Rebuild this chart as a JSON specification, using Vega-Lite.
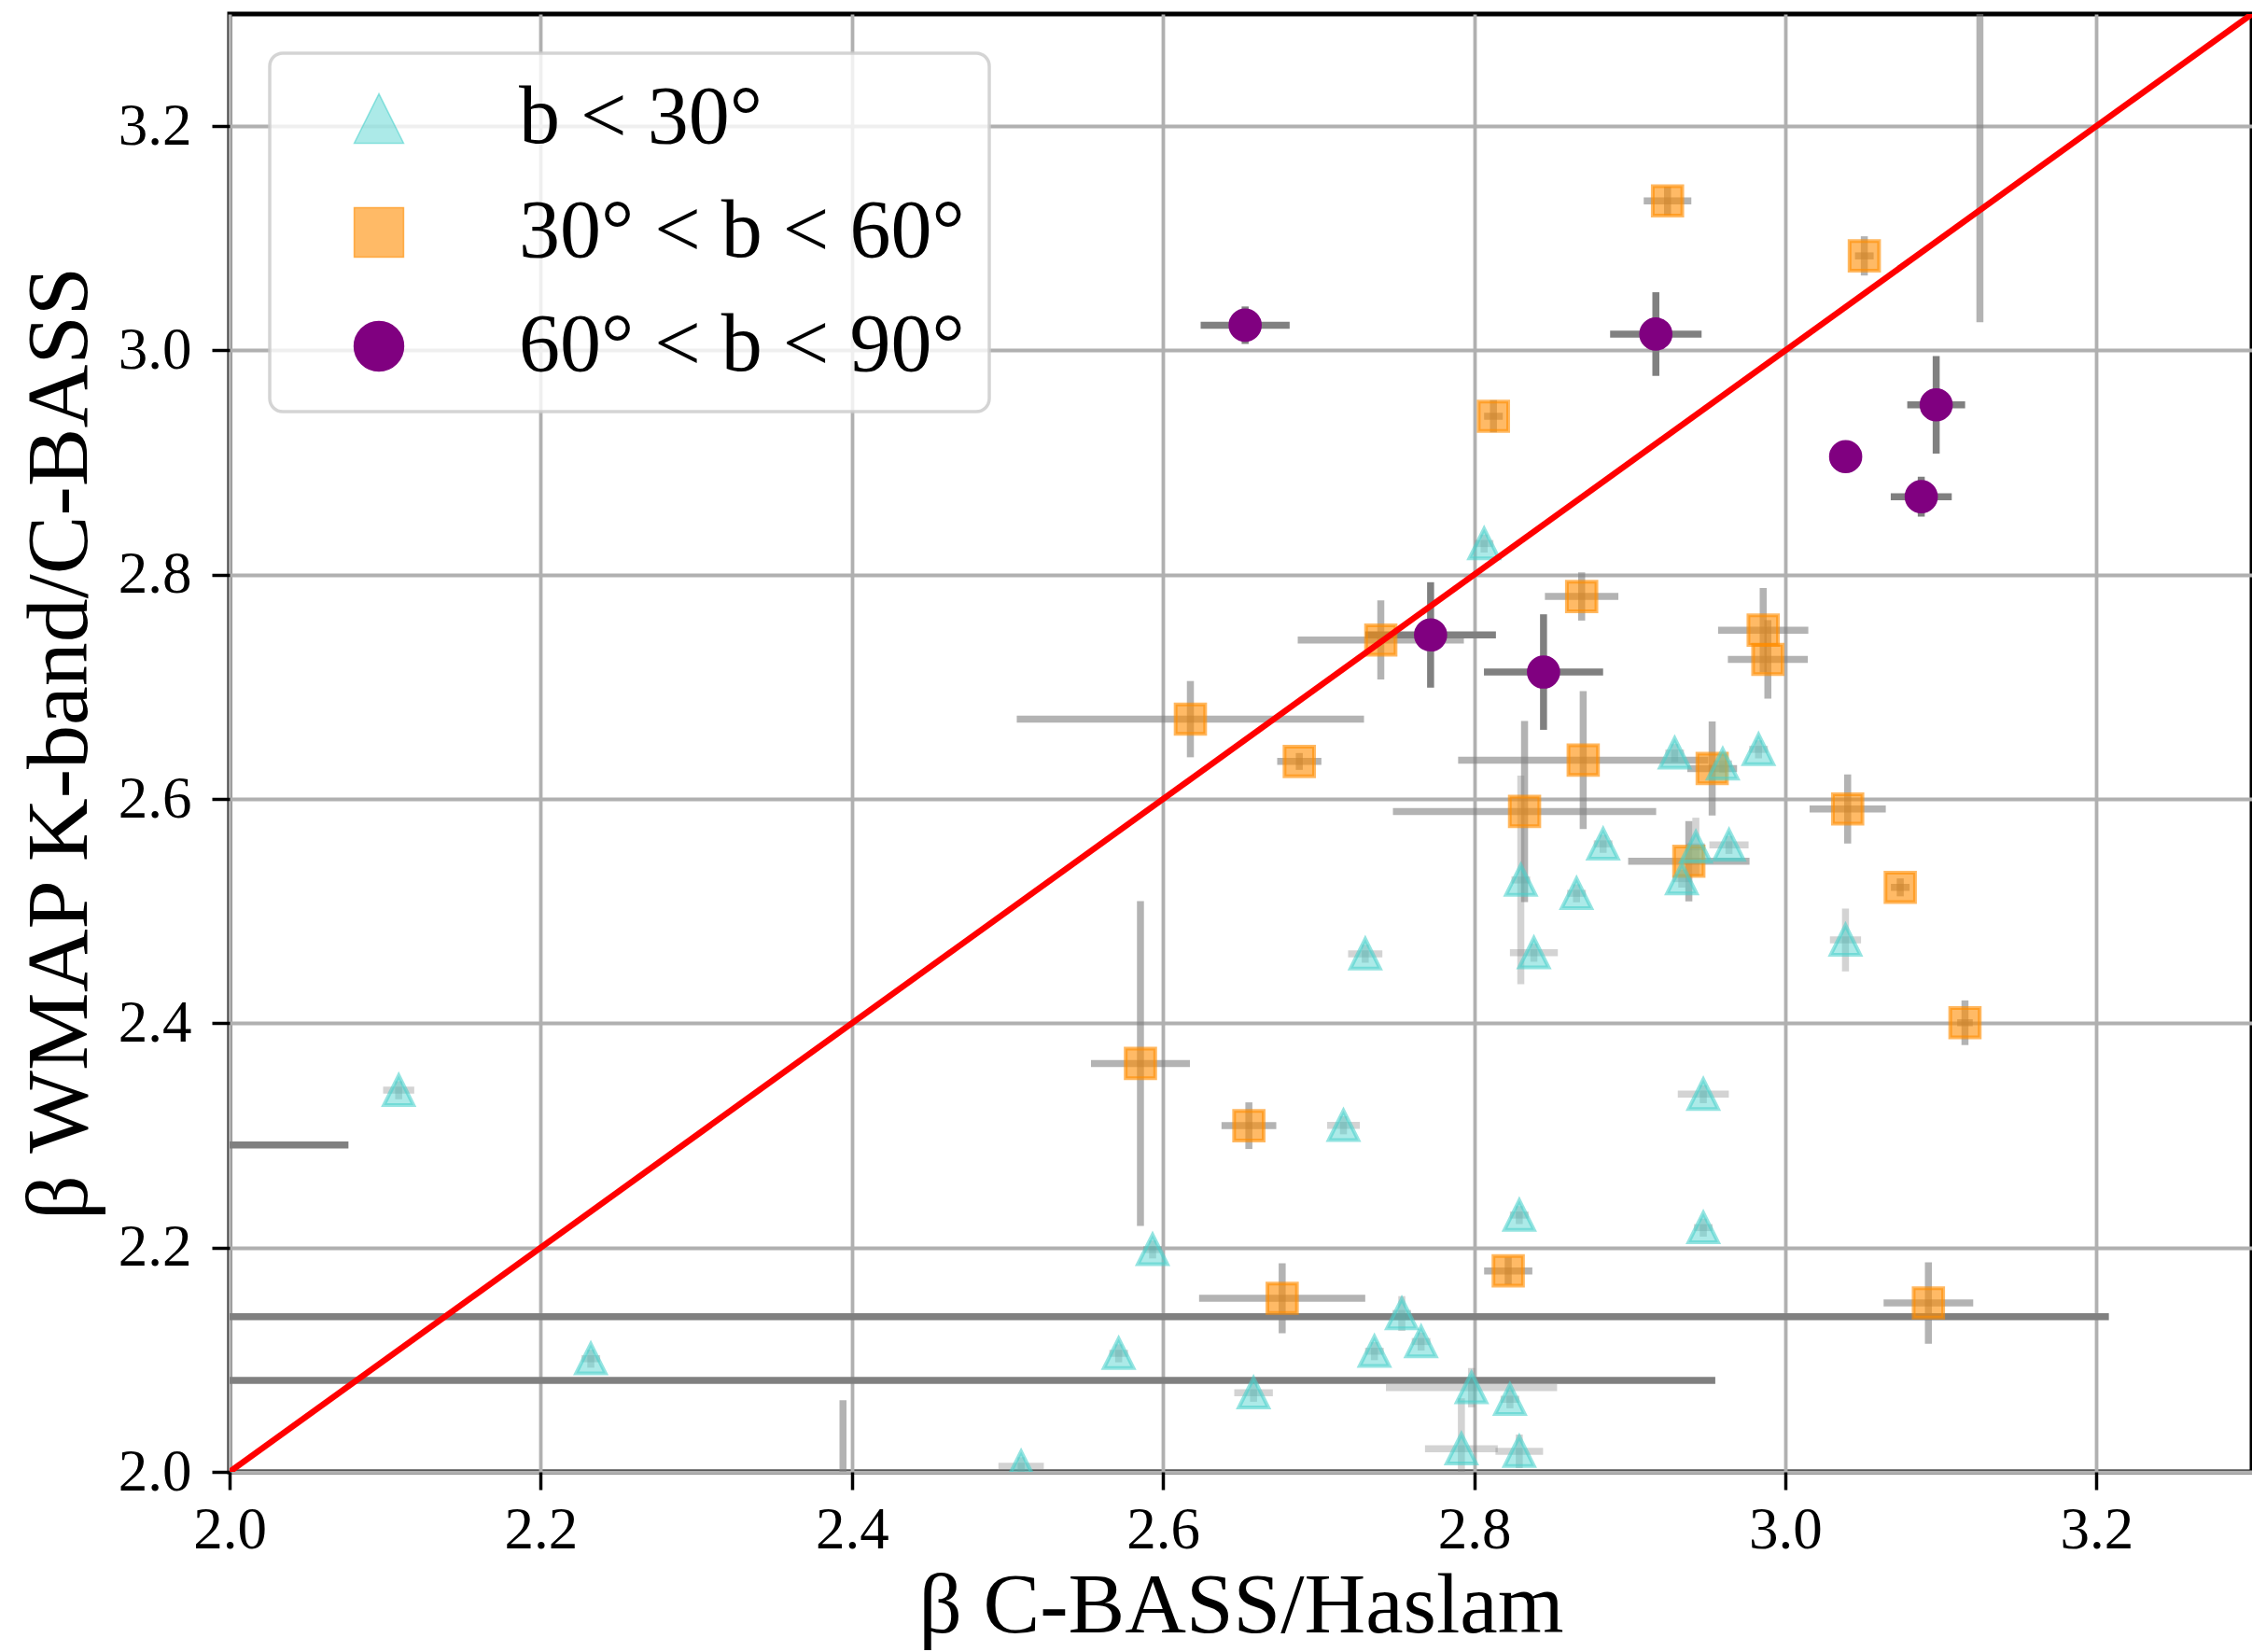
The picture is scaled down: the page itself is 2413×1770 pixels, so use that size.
{
  "$schema": "https://vega.github.io/schema/vega-lite/v6.json",
  "width": 2167,
  "height": 1562,
  "autosize": {"type": "none"},
  "padding": {"left": 246, "top": 15, "right": 0, "bottom": 193},
  "background": "white",
  "config": {
    "view": {"stroke": "black", "strokeWidth": 5},
    "axis": {
      "grid": true,
      "gridColor": "#b0b0b0",
      "gridWidth": 3.8,
      "domain": false,
      "tickColor": "black",
      "tickWidth": 3.5,
      "tickSize": 19,
      "labelFont": "Liberation Serif",
      "labelFontSize": 63,
      "labelColor": "black",
      "labelFlush": false,
      "labelOverlap": false,
      "labelBound": false,
      "titleFont": "Liberation Serif",
      "titleFontSize": 94,
      "titleFontWeight": "normal",
      "titleColor": "black"
    },
    "axisX": {"labelPadding": 12, "titlePadding": 5, "titleFontSize": 91},
    "axisY": {"labelPadding": 22, "titlePadding": 14},
    "legend": {
      "orient": "none",
      "legendX": 43,
      "legendY": 42,
      "padding": 26,
      "fillColor": "rgba(255,255,255,0.8)",
      "strokeColor": "rgba(204,204,204,0.85)",
      "strokeWidth": 3.5,
      "cornerRadius": 14,
      "symbolSize": 2800,
      "labelFont": "Liberation Serif",
      "labelFontSize": 88,
      "labelColor": "black",
      "labelLimit": 0,
      "rowPadding": 34,
      "labelOffset": 106,
      "symbolOffset": 47
    }
  },
  "datasets": {
    "pts": [
      {"g": "60° < b < 90°", "x": 2.6528, "y": 3.0225, "xlo": 2.6242, "xhi": 2.6814, "ylo": 3.0058, "yhi": 3.0392},
      {"g": "60° < b < 90°", "x": 2.9168, "y": 3.0146, "xlo": 2.8874, "xhi": 2.9462, "ylo": 2.9773, "yhi": 3.0519},
      {"g": "60° < b < 90°", "x": 3.097, "y": 2.9515, "xlo": 3.0784, "xhi": 3.1156, "ylo": 2.908, "yhi": 2.995},
      {"g": "60° < b < 90°", "x": 3.0388, "y": 2.9053, "xlo": 3.0388, "xhi": 3.0388, "ylo": 2.9053, "yhi": 2.9053},
      {"g": "60° < b < 90°", "x": 3.0874, "y": 2.8696, "xlo": 3.0678, "xhi": 3.107, "ylo": 2.8518, "yhi": 2.8874},
      {"g": "60° < b < 90°", "x": 2.772, "y": 2.7463, "xlo": 2.73, "xhi": 2.814, "ylo": 2.6993, "yhi": 2.7933},
      {"g": "60° < b < 90°", "x": 2.8446, "y": 2.7132, "xlo": 2.8063, "xhi": 2.8829, "ylo": 2.6617, "yhi": 2.7647},
      {"g": "60° < b < 90°", "x": 1.9, "y": 2.2916, "xlo": 1.7236, "xhi": 2.0764, "ylo": 2.25, "yhi": 2.33},
      {"g": "60° < b < 90°", "x": 1.85, "y": 2.1384, "xlo": 0.492, "xhi": 3.208, "ylo": 2.09, "yhi": 2.19},
      {"g": "60° < b < 90°", "x": 1.8, "y": 2.0816, "xlo": 0.645, "xhi": 2.955, "ylo": 2.04, "yhi": 2.12},
      {"g": "30° < b < 60°", "x": 2.9243, "y": 3.1333, "xlo": 2.909, "xhi": 2.9396, "ylo": 3.1206, "yhi": 3.146},
      {"g": "30° < b < 60°", "x": 3.0508, "y": 3.0843, "xlo": 3.0448, "xhi": 3.0568, "ylo": 3.0668, "yhi": 3.1018},
      {"g": "30° < b < 60°", "x": 2.8124, "y": 2.9413, "xlo": 2.8064, "xhi": 2.8184, "ylo": 2.927, "yhi": 2.9556},
      {"g": "30° < b < 60°", "x": 2.8691, "y": 2.7806, "xlo": 2.8455, "xhi": 2.8927, "ylo": 2.7591, "yhi": 2.8021},
      {"g": "30° < b < 60°", "x": 2.74, "y": 2.7418, "xlo": 2.6866, "xhi": 2.7934, "ylo": 2.7065, "yhi": 2.7771},
      {"g": "30° < b < 60°", "x": 2.9858, "y": 2.7506, "xlo": 2.9568, "xhi": 3.0148, "ylo": 2.7131, "yhi": 2.7881},
      {"g": "30° < b < 60°", "x": 2.9888, "y": 2.7245, "xlo": 2.9631, "xhi": 3.0145, "ylo": 2.6895, "yhi": 2.7595},
      {"g": "30° < b < 60°", "x": 2.6176, "y": 2.6712, "xlo": 2.506, "xhi": 2.7292, "ylo": 2.6372, "yhi": 2.7052},
      {"g": "30° < b < 60°", "x": 2.6876, "y": 2.6335, "xlo": 2.6734, "xhi": 2.7018, "ylo": 2.626, "yhi": 2.641},
      {"g": "30° < b < 60°", "x": 2.8701, "y": 2.6347, "xlo": 2.7897, "xhi": 2.9505, "ylo": 2.5733, "yhi": 2.6961},
      {"g": "30° < b < 60°", "x": 2.953, "y": 2.6272, "xlo": 2.937, "xhi": 2.969, "ylo": 2.5852, "yhi": 2.6692},
      {"g": "30° < b < 60°", "x": 2.8324, "y": 2.5889, "xlo": 2.7478, "xhi": 2.917, "ylo": 2.5082, "yhi": 2.6696},
      {"g": "30° < b < 60°", "x": 3.0401, "y": 2.5911, "xlo": 3.0156, "xhi": 3.0646, "ylo": 2.5603, "yhi": 2.6219},
      {"g": "30° < b < 60°", "x": 2.938, "y": 2.5445, "xlo": 2.899, "xhi": 2.977, "ylo": 2.5088, "yhi": 2.5802},
      {"g": "30° < b < 60°", "x": 3.0739, "y": 2.5212, "xlo": 3.0679, "xhi": 3.0799, "ylo": 2.5132, "yhi": 2.5292},
      {"g": "30° < b < 60°", "x": 3.1155, "y": 2.4005, "xlo": 3.1105, "xhi": 3.1205, "ylo": 2.3806, "yhi": 2.4204},
      {"g": "30° < b < 60°", "x": 2.5855, "y": 2.3642, "xlo": 2.5537, "xhi": 2.6173, "ylo": 2.2194, "yhi": 2.509},
      {"g": "30° < b < 60°", "x": 2.6552, "y": 2.3087, "xlo": 2.6376, "xhi": 2.6728, "ylo": 2.2879, "yhi": 2.3295},
      {"g": "30° < b < 60°", "x": 2.8219, "y": 2.1792, "xlo": 2.8064, "xhi": 2.8374, "ylo": 2.1672, "yhi": 2.1912},
      {"g": "30° < b < 60°", "x": 2.6766, "y": 2.1548, "xlo": 2.6232, "xhi": 2.73, "ylo": 2.1236, "yhi": 2.186},
      {"g": "30° < b < 60°", "x": 3.092, "y": 2.1506, "xlo": 3.0632, "xhi": 3.1208, "ylo": 2.1143, "yhi": 2.1869},
      {"g": "30° < b < 60°", "x": 3.1251, "y": 3.4, "xlo": 3.1251, "xhi": 3.1251, "ylo": 3.0251, "yhi": 3.775},
      {"g": "30° < b < 60°", "x": 2.3943, "y": 1.94, "xlo": 2.3943, "xhi": 2.3943, "ylo": 1.816, "yhi": 2.0639},
      {"g": "b < 30°", "x": 2.8064, "y": 2.8278, "xlo": 2.8004, "xhi": 2.8124, "ylo": 2.8198, "yhi": 2.8358},
      {"g": "b < 30°", "x": 2.9289, "y": 2.641, "xlo": 2.9229, "xhi": 2.9349, "ylo": 2.633, "yhi": 2.649},
      {"g": "b < 30°", "x": 2.9598, "y": 2.6313, "xlo": 2.9538, "xhi": 2.9658, "ylo": 2.6233, "yhi": 2.6393},
      {"g": "b < 30°", "x": 2.9828, "y": 2.6443, "xlo": 2.9768, "xhi": 2.9888, "ylo": 2.6363, "yhi": 2.6523},
      {"g": "b < 30°", "x": 2.8829, "y": 2.56, "xlo": 2.8769, "xhi": 2.8889, "ylo": 2.552, "yhi": 2.568},
      {"g": "b < 30°", "x": 2.9425, "y": 2.5573, "xlo": 2.9365, "xhi": 2.9485, "ylo": 2.5313, "yhi": 2.5833},
      {"g": "b < 30°", "x": 2.9638, "y": 2.559, "xlo": 2.9512, "xhi": 2.9764, "ylo": 2.551, "yhi": 2.567},
      {"g": "b < 30°", "x": 2.9335, "y": 2.529, "xlo": 2.9275, "xhi": 2.9395, "ylo": 2.521, "yhi": 2.537},
      {"g": "b < 30°", "x": 2.83, "y": 2.5278, "xlo": 2.824, "xhi": 2.836, "ylo": 2.4348, "yhi": 2.6208},
      {"g": "b < 30°", "x": 2.8658, "y": 2.5159, "xlo": 2.8598, "xhi": 2.8718, "ylo": 2.5079, "yhi": 2.5239},
      {"g": "b < 30°", "x": 2.8384, "y": 2.4629, "xlo": 2.823, "xhi": 2.8538, "ylo": 2.4549, "yhi": 2.4709},
      {"g": "b < 30°", "x": 2.73, "y": 2.462, "xlo": 2.719, "xhi": 2.741, "ylo": 2.454, "yhi": 2.47},
      {"g": "b < 30°", "x": 3.0387, "y": 2.4743, "xlo": 3.0287, "xhi": 3.0487, "ylo": 2.4463, "yhi": 2.5023},
      {"g": "b < 30°", "x": 2.1087, "y": 2.3403, "xlo": 2.0987, "xhi": 2.1187, "ylo": 2.3323, "yhi": 2.3483},
      {"g": "b < 30°", "x": 2.9473, "y": 2.3368, "xlo": 2.9309, "xhi": 2.9637, "ylo": 2.3288, "yhi": 2.3448},
      {"g": "b < 30°", "x": 2.716, "y": 2.309, "xlo": 2.7055, "xhi": 2.7265, "ylo": 2.301, "yhi": 2.317},
      {"g": "b < 30°", "x": 2.829, "y": 2.229, "xlo": 2.823, "xhi": 2.835, "ylo": 2.221, "yhi": 2.237},
      {"g": "b < 30°", "x": 2.9473, "y": 2.2178, "xlo": 2.9413, "xhi": 2.9533, "ylo": 2.2098, "yhi": 2.2258},
      {"g": "b < 30°", "x": 2.5933, "y": 2.1983, "xlo": 2.5873, "xhi": 2.5993, "ylo": 2.1903, "yhi": 2.2063},
      {"g": "b < 30°", "x": 2.7535, "y": 2.1412, "xlo": 2.7475, "xhi": 2.7595, "ylo": 2.1257, "yhi": 2.1567},
      {"g": "b < 30°", "x": 2.7659, "y": 2.1162, "xlo": 2.7599, "xhi": 2.7719, "ylo": 2.1082, "yhi": 2.1242},
      {"g": "b < 30°", "x": 2.7359, "y": 2.1076, "xlo": 2.7299, "xhi": 2.7419, "ylo": 2.0996, "yhi": 2.1156},
      {"g": "b < 30°", "x": 2.5715, "y": 2.1057, "xlo": 2.5655, "xhi": 2.5775, "ylo": 2.0977, "yhi": 2.1137},
      {"g": "b < 30°", "x": 2.2322, "y": 2.1009, "xlo": 2.2262, "xhi": 2.2382, "ylo": 2.0929, "yhi": 2.1089},
      {"g": "b < 30°", "x": 2.6582, "y": 2.0705, "xlo": 2.6458, "xhi": 2.6706, "ylo": 2.0625, "yhi": 2.0785},
      {"g": "b < 30°", "x": 2.7983, "y": 2.0751, "xlo": 2.7433, "xhi": 2.8533, "ylo": 2.0576, "yhi": 2.0926},
      {"g": "b < 30°", "x": 2.823, "y": 2.0647, "xlo": 2.817, "xhi": 2.829, "ylo": 2.0567, "yhi": 2.0727},
      {"g": "b < 30°", "x": 2.7918, "y": 2.0206, "xlo": 2.7684, "xhi": 2.8152, "ylo": 1.9756, "yhi": 2.0656},
      {"g": "b < 30°", "x": 2.829, "y": 2.0183, "xlo": 2.8137, "xhi": 2.8443, "ylo": 2.0033, "yhi": 2.0333},
      {"g": "b < 30°", "x": 2.5088, "y": 2.005, "xlo": 2.4942, "xhi": 2.5234, "ylo": 1.997, "yhi": 2.013}
    ],
    "diag": [{"x": 2.0, "y": 2.0}, {"x": 3.3, "y": 3.3}]
  },
  "layer": [
    {
      "data": {"name": "pts"},
      "mark": {"type": "rule", "strokeWidth": 7.5, "strokeCap": "butt", "clip": true},
      "encoding": {
        "x": {"field": "xlo", "type": "quantitative", "title": "β C-BASS/Haslam",
              "scale": {"domain": [2.0, 3.3], "nice": false, "zero": false},
              "axis": {"values": [2.0, 2.2, 2.4, 2.6, 2.8, 3.0, 3.2], "format": ".1f"}},
        "x2": {"field": "xhi"},
        "y": {"field": "y", "type": "quantitative", "title": "β WMAP K-band/C-BASS",
              "scale": {"domain": [2.0, 3.3], "nice": false, "zero": false},
              "axis": {"values": [2.0, 2.2, 2.4, 2.6, 2.8, 3.0, 3.2], "format": ".1f"}},
        "color": {"field": "g", "type": "nominal",
                  "scale": {"domain": ["60° < b < 90°", "30° < b < 60°", "b < 30°"],
                            "range": ["rgba(128,128,128,1)", "rgba(128,128,128,0.6)", "rgba(128,128,128,0.35)"]},
                  "legend": null}
      }
    },
    {
      "data": {"name": "pts"},
      "mark": {"type": "rule", "strokeWidth": 7.5, "strokeCap": "butt", "clip": true},
      "encoding": {
        "x": {"field": "x", "type": "quantitative", "title": "β C-BASS/Haslam"},
        "y": {"field": "ylo", "type": "quantitative", "title": "β WMAP K-band/C-BASS"},
        "y2": {"field": "yhi"},
        "color": {"field": "g", "type": "nominal", "legend": null}
      }
    },
    {
      "data": {"name": "pts"},
      "mark": {"type": "point", "size": 1000, "strokeWidth": 4, "opacity": 1, "clip": true},
      "encoding": {
        "x": {"field": "x", "type": "quantitative", "title": "β C-BASS/Haslam"},
        "y": {"field": "y", "type": "quantitative", "title": "β WMAP K-band/C-BASS"},
        "fill": {"field": "g", "type": "nominal",
                 "scale": {"domain": ["b < 30°", "30° < b < 60°", "60° < b < 90°"],
                           "range": ["rgba(72,209,204,0.45)", "rgba(255,140,0,0.6)", "rgba(128,0,128,1)"]},
                 "legend": {"title": null, "orient": "none", "legendX": 43, "legendY": 42,
                            "encode": {"symbols": {
                              "fill": {"value": {"expr": "datum.value === 'b < 30°' ? 'rgba(72,209,204,0.72)' : datum.value === '30° < b < 60°' ? 'rgba(255,140,0,0.62)' : '#800080'"}},
                              "stroke": {"value": "rgba(255,255,255,0.75)"},
                              "strokeWidth": {"value": 3},
                              "opacity": {"value": 1}}}}},
        "stroke": {"field": "g", "type": "nominal",
                   "scale": {"domain": ["b < 30°", "30° < b < 60°", "60° < b < 90°"],
                             "range": ["rgba(72,209,204,0.58)", "rgba(255,140,0,0.62)", "rgba(128,0,128,1)"]},
                   "legend": {"title": null, "orient": "none", "legendX": 43, "legendY": 42,
                            "encode": {"symbols": {
                              "fill": {"value": {"expr": "datum.value === 'b < 30°' ? 'rgba(72,209,204,0.72)' : datum.value === '30° < b < 60°' ? 'rgba(255,140,0,0.62)' : '#800080'"}},
                              "stroke": {"value": "rgba(255,255,255,0.75)"},
                              "strokeWidth": {"value": 3},
                              "opacity": {"value": 1}}}}},
        "shape": {"field": "g", "type": "nominal",
                  "scale": {"domain": ["b < 30°", "30° < b < 60°", "60° < b < 90°"],
                            "range": ["M0,-1L-1,1L1,1Z", "square", "circle"]},
                  "legend": {"title": null, "orient": "none", "legendX": 43, "legendY": 42,
                            "encode": {"symbols": {
                              "fill": {"value": {"expr": "datum.value === 'b < 30°' ? 'rgba(72,209,204,0.72)' : datum.value === '30° < b < 60°' ? 'rgba(255,140,0,0.62)' : '#800080'"}},
                              "stroke": {"value": "rgba(255,255,255,0.75)"},
                              "strokeWidth": {"value": 3},
                              "opacity": {"value": 1}}}}}
      }
    },
    {
      "data": {"name": "diag"},
      "mark": {"type": "line", "color": "#ff0000", "strokeWidth": 6.5, "clip": true},
      "encoding": {
        "x": {"field": "x", "type": "quantitative", "title": "β C-BASS/Haslam"},
        "y": {"field": "y", "type": "quantitative", "title": "β WMAP K-band/C-BASS"}
      }
    }
  ]
}
